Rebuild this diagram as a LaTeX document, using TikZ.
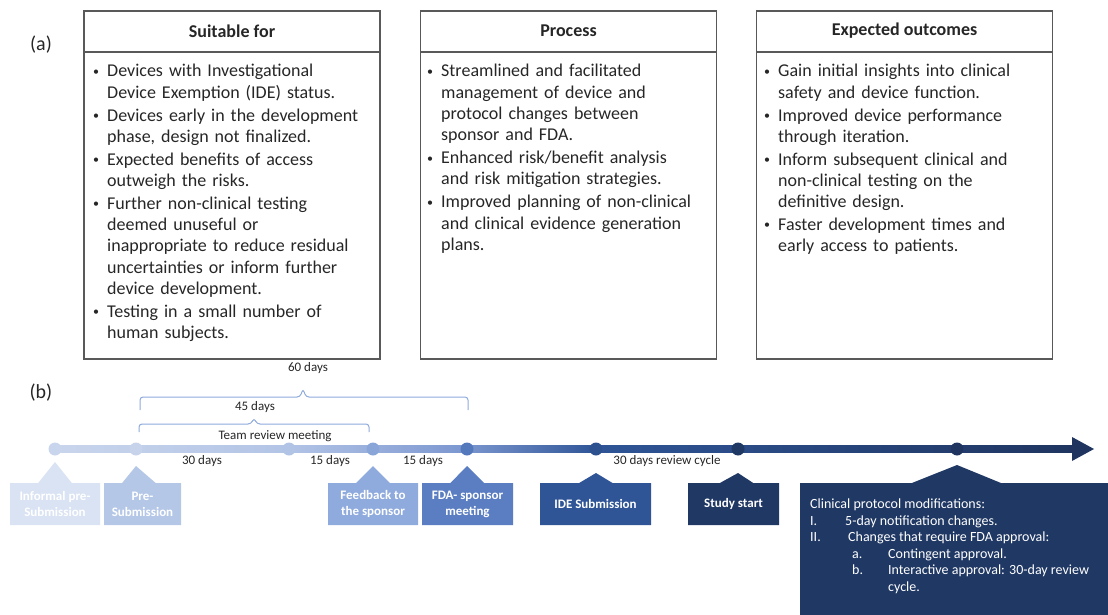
\documentclass[tikz,border=0pt]{standalone}
\usepackage{fontspec}
\setmainfont{Carlito}
\usetikzlibrary{shapes.callouts,calc}

\definecolor{frame}{HTML}{595959}
\definecolor{ink}{HTML}{262626}
\definecolor{brace}{HTML}{8FAADC}
\definecolor{stepA}{HTML}{DAE3F3}
\definecolor{stepB}{HTML}{B4C7E7}
\definecolor{stepC}{HTML}{8FAADC}
\definecolor{stepD}{HTML}{5B7EC2}
\definecolor{stepE}{HTML}{2F5597}
\definecolor{stepF}{HTML}{203864}
\definecolor{lineA}{HTML}{C9D5EC}
\definecolor{lineB}{HTML}{B2C4E6}
\definecolor{lineC}{HTML}{7C97D0}
\definecolor{lineD}{HTML}{2F5597}
\definecolor{lineE}{HTML}{1F3560}

\pgfdeclarehorizontalshading{timeline}{100bp}{color(0bp)=(lineA); color(25bp)=(lineA);
  color(36.5bp)=(lineB); color(45bp)=(lineC); color(51.5bp)=(lineD);
  color(75bp)=(lineE); color(100bp)=(lineE)}

% bullet item with hanging lines, \\ breaks inside the item
\newcommand{\bul}[1]{\par\hangindent=15pt\hangafter=1\noindent
  \makebox[15pt][l]{\strut\hspace{1pt}\raisebox{1.6pt}{\fontsize{12}{12}\selectfont\textbullet}}{\let\\\newline#1}}

\begin{document}
\begin{tikzpicture}[x=1pt, y=-1pt,
  panel/.style={draw=frame, line width=1.1pt, minimum width=296pt, minimum height=348pt, inner sep=0},
  head/.style={text=ink, font=\bfseries\fontsize{18}{21.5}\selectfont},
  body/.style={anchor=north west, inner sep=0, text width=292pt, align=left, text=ink,
    font=\fontsize{18}{21.3}\selectfont\setlength{\parskip}{1.5pt}},
  dot/.style={circle, inner sep=0, minimum size=13pt},
  span/.style={inner sep=0, text=ink, font=\fontsize{13}{15}\selectfont},
  tag/.style={rectangle callout, anchor=north, inner sep=0, minimum height=42pt,
    callout pointer width=34pt, text=white, align=center, font=\bfseries\fontsize{13}{16}\selectfont},
  bracket/.style={draw=brace, line width=1pt, rounded corners=3pt},
]
\useasboundingbox (0,0) rectangle (1108,615);

% (a) the three panels
\node[font=\fontsize{20}{24}\selectfont, text=ink] (parta) at (41,45) {(a)};

\node[panel] (suit) at (232,185) {};
\draw[frame, line width=1.1pt] (84,52) -- (380,52);
\node[head] (suithead) at (232,31) {Suitable for};
\node[body] (suitlist) at (92,54) {%
  \bul{Devices with Investigational\\Device Exemption (IDE) status.}
  \bul{Devices early in the development\\phase, design not finalized.}
  \bul{Expected benefits of access\\outweigh the risks.}
  \bul{Further non-clinical testing\\deemed unuseful or\\inappropriate to reduce residual\\uncertainties or inform further\\device development.}
  \bul{Testing in a small number of\\human subjects.}\par};

\node[panel] (proc) at (568.5,185) {};
\draw[frame, line width=1.1pt] (421,52) -- (716,52);
\node[head] (prochead) at (568.5,31) {Process};
\node[body] (proclist) at (426,54) {%
  \bul{Streamlined and facilitated\\management of device and\\protocol changes between\\sponsor and FDA.}
  \bul{Enhanced risk/benefit analysis\\and risk mitigation strategies.}
  \bul{Improved planning of non-clinical\\and clinical evidence generation\\plans.}\par};

\node[panel] (outc) at (904.5,185) {};
\draw[frame, line width=1.1pt] (757,52) -- (1052,52);
\node[head] (outchead) at (904.5,31) {Expected outcomes};
\node[body] (outclist) at (763,54) {%
  \bul{Gain initial insights into clinical\\safety and device function.}
  \bul{Improved device performance\\through iteration.}
  \bul{Inform subsequent clinical and\\non-clinical testing on the\\definitive design.}
  \bul{Faster development times and\\early access to patients.}\par};

% (b) the timeline
\node[font=\fontsize{20}{24}\selectfont, text=ink] (partb) at (41,393) {(b)};

\shade[shading=timeline] (55,445.5) rectangle (1075,452.5);
\fill[lineE] (1072,437) -- (1094,449) -- (1072,461) -- cycle;

\node[dot, fill=lineA] (d1) at (55,449) {};
\node[dot, fill=lineA!95!stepC] (d2) at (136,449) {};
\node[dot, fill=lineB] (d3) at (289,449) {};
\node[dot, fill=stepC!90!stepD] (d4) at (373,449) {};
\node[dot, fill=stepD!85!stepE] (d5) at (467,449) {};
\node[dot, fill=stepE!85!stepF] (d6) at (596,449) {};
\node[dot, fill=stepF] (d7) at (738,449) {};
\node[dot, fill=lineE] (d8) at (957,449) {};

\draw[bracket] (140,410) -- (140,397) -- (300,397) -- (303,389) -- (306,397) -- (468,397) -- (468,410);
\draw[bracket] (139,432) -- (139,424) -- (251,424) -- (254,418) -- (257,424) -- (369,424) -- (369,432);
\node[span] (sixty) at (308,368) {60 days};
\node[span] (fortyfive) at (255,407) {45 days};
\node[span] (review) at (275,436) {Team review meeting};

\node[span] (gapa) at (202,461) {30 days};
\node[span] (gapb) at (330,461) {15 days};
\node[span] (gapc) at (423,461) {15 days};
\node[span] (gapd) at (667,461) {30 days review cycle};

\node[tag, fill=stepA, minimum width=90pt, callout absolute pointer={($(d1)+(0,13)$)}] (informal) at (55,483) {Informal pre-\\Submission};
\node[tag, fill=stepB, minimum width=77pt, callout absolute pointer={($(d2)+(0,17)$)}] (presub) at (142.5,483) {Pre-\\Submission};
\node[tag, fill=stepC, minimum width=90pt, callout absolute pointer={($(d4)+(0,17)$)}] (feedback) at (373,483) {Feedback to\\the sponsor};
\node[tag, fill=stepD, minimum width=91pt, callout absolute pointer={($(d5)+(0,17)$)}] (meeting) at (467.5,483) {FDA- sponsor\\meeting};
\node[tag, fill=stepE, minimum width=111pt, callout absolute pointer={($(d6)+(0,24)$)}] (ide) at (595.5,483) {IDE Submission};
\node[tag, fill=stepF, minimum width=91pt, callout absolute pointer={($(d7)+(0,24)$)}] (start) at (733.5,483) {Study start};

\node[tag, fill=stepF, anchor=north west, callout pointer width=90pt, inner xsep=10pt, inner ysep=14pt,
  font=\fontsize{14}{16.5}\selectfont, callout absolute pointer={($(d8)+(0,16)$)}] (clinical) at (800,483) {%
  \begin{minipage}[t][118pt][t]{288pt}
  \strut Clinical protocol modifications:\\
  \makebox[35pt][l]{I.}5-day notification changes.\\
  \makebox[38pt][l]{II.}Changes that require FDA approval:\\
  \hspace*{42pt}\makebox[36pt][l]{a.}Contingent approval.\\
  \hspace*{42pt}\makebox[36pt][l]{b.}Interactive approval: 30-day review\\
  \hspace*{78pt}cycle.
  \end{minipage}};
\end{tikzpicture}
\end{document}
